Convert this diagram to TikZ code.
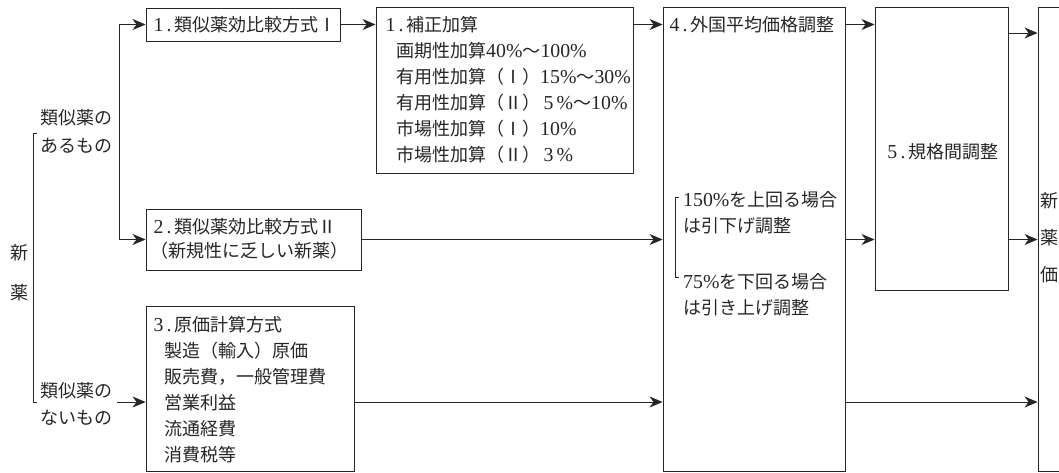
\documentclass[tikz,border=0pt]{standalone}
\usepackage{fontspec}
\setmainfont{Noto Sans CJK JP}
\newfontfamily\lat[Scale=1.1]{Liberation Serif}
\usetikzlibrary{arrows.meta,calc}
\definecolor{ink}{HTML}{262626}
\tikzset{
  box/.style={draw=ink, line width=0.9pt, inner sep=0pt, rectangle},
  txt/.style={inner sep=0pt, text=ink, font=\fontsize{18}{26}\selectfont, align=left},
  arr/.style={draw=ink, line width=0.8pt, -{Stealth[length=13pt,width=11pt,inset=4pt]}},
  ln/.style={draw=ink, line width=0.8pt},
}
\begin{document}
\begin{tikzpicture}[x=1pt,y=-1pt]
\useasboundingbox (0,0) rectangle (1059,472);
\clip (0,0) rectangle (1059,472);
% boxes
\node[box, minimum width=194, minimum height=33]  (b1) at (243,24.5) {};
\node[box, minimum width=257, minimum height=166] (bc) at (504.5,90) {};
\node[box, minimum width=215, minimum height=61]  (b2) at (253.5,239.5) {};
\node[box, minimum width=208, minimum height=165] (b3) at (250,388.5) {};
\node[box, minimum width=182, minimum height=464] (b4) at (754,239) {};
\node[box, minimum width=133, minimum height=283] (b5) at (941.5,148.5) {};
\node[box, minimum width=62,  minimum height=464] (b6) at (1069,239) {};
% texts
\node[txt, anchor=west] (t1) at (150,25) {{\lat\,1\,.\,}類似薬効比較方式Ⅰ};
\node[txt, anchor=north west] (tc) at (382,16.5) {{\lat\,1\,.\,}補正加算\\
\hspace{14pt}画期性加算{\lat 40\%}～{\lat 100\%}\\
\hspace{14pt}有用性加算（Ⅰ）{\lat 15\%}～{\lat 30\%}\\
\hspace{14pt}有用性加算（Ⅱ）{\lat\,5\,\%}～{\lat 10\%}\\
\hspace{14pt}市場性加算（Ⅰ）{\lat 10\%}\\
\hspace{14pt}市場性加算（Ⅱ）{\lat\,3\,\%}};
\node[txt, anchor=north west, font=\fontsize{18}{24}\selectfont] (t2) at (150,218.5) {{\lat\,2\,.\,}類似薬効比較方式Ⅱ\\（新規性に乏しい新薬）};
\node[txt, anchor=north west] (t3) at (150,316.5) {{\lat\,3\,.\,}原価計算方式\\
\hspace{14pt}製造（輸入）原価\\
\hspace{14pt}販売費，一般管理費\\
\hspace{14pt}営業利益\\
\hspace{14pt}流通経費\\
\hspace{14pt}消費税等};
\node[txt, anchor=west] (t4) at (666,25) {{\lat\,4\,.\,}外国平均価格調整};
\node[txt, anchor=north west] (t4a) at (683,191.5) {{\lat 150\%}を上回る場合\\は引下げ調整};
\node[txt, anchor=north west] (t4b) at (683,273.5) {{\lat 75\%}を下回る場合\\は引き上げ調整};
\node[txt] (t5) at (941.5,152) {{\lat\,5\,.\,}規格間調整};
\node[txt, anchor=north, align=center, font=\fontsize{18}{37}\selectfont] (t6) at (1049,192.5) {新\\薬\\価};
\node[txt, anchor=north west, font=\fontsize{18}{28}\selectfont] (la) at (40,109.5) {類似薬の\\あるもの};
\node[txt, anchor=north west, font=\fontsize{18}{27}\selectfont] (lb) at (40,382.5) {類似薬の\\ないもの};
\node[txt, anchor=north, align=center, font=\fontsize{18}{40}\selectfont] (ln) at (19,244.5) {新\\薬};
% brackets
\draw[ln] (37,133) -- (33,133) -- (33,402) -- (37,402);
\draw[ln] (679,197) -- (675,197) -- (675,277) -- (679,277);
% connectors
\coordinate (split) at (119,130);
\coordinate (r3) at (0,402);
\coordinate (r5) at (0,33);
\coordinate (lbend) at (117,402);
\draw[arr] (split) |- (b1.west);
\draw[arr] (split) |- (b2.west);
\draw[arr] (lbend) -- (b3.west |- r3);
\draw[arr] (b1.east) -- (bc.west |- b1.east);
\draw[arr] (bc.east |- b1.east) -- (b4.west |- b1.east);
\draw[arr] (b2.east) -- (b4.west |- b2.east);
\draw[arr] (b3.east |- r3) -- (b4.west |- r3);
\draw[arr] (b4.east |- b1.east) -- (b5.west |- b1.east);
\draw[arr] (b4.east |- b2.east) -- (b5.west |- b2.east);
\draw[arr] (b4.east |- r3) -- (b6.west |- r3);
\draw[arr] (b5.east |- r5) -- (b6.west |- r5);
\draw[arr] (b5.east |- b2.east) -- (b6.west |- b2.east);
\end{tikzpicture}
\end{document}
